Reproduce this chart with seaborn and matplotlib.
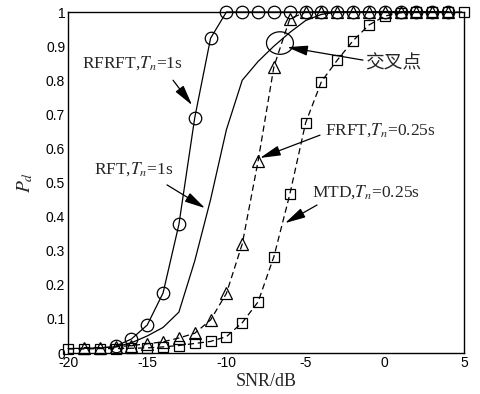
import numpy as np
import pandas as pd
import matplotlib
matplotlib.use("Agg")
import matplotlib.pyplot as plt
import seaborn as sns
from matplotlib.patches import Ellipse

# ---- data ----
snr_mtd = list(range(-20, 6))
pd_mtd = [0.012, 0.012, 0.013, 0.013, 0.014, 0.015, 0.018, 0.022, 0.028, 0.034,
          0.048, 0.089, 0.150, 0.283, 0.465, 0.675, 0.796, 0.859, 0.916, 0.962,
          0.988, 0.998, 1.0, 1.0, 1.0, 1.0]

snr_frft = list(range(-19, 5))
pd_frft = [0.016, 0.016, 0.018, 0.022, 0.027, 0.033, 0.044, 0.058, 0.097, 0.175,
           0.320, 0.563, 0.840, 0.980, 1.0, 1.0, 1.0, 1.0, 1.0, 1.0,
           1.0, 1.0, 1.0, 1.0]

snr_rfrft = list(range(-17, 5))
pd_rfrft = [0.020, 0.041, 0.082, 0.176, 0.377, 0.690, 0.923, 1.0, 1.0, 1.0,
            1.0, 1.0, 1.0, 1.0, 1.0, 1.0, 1.0, 1.0, 1.0, 1.0, 1.0, 1.0]

snr_rft = list(range(-20, 5))
pd_rft = [0.013, 0.014, 0.015, 0.018, 0.030, 0.050, 0.075, 0.120, 0.270, 0.450,
          0.655, 0.800, 0.855, 0.900, 0.940, 0.975, 0.993, 1.0, 1.0, 1.0,
          1.0, 1.0, 1.0, 1.0, 1.0]

xticks = [-20, -15, -10, -5, 0, 5]
yticks = [0, 0.1, 0.2, 0.3, 0.4, 0.5, 0.6, 0.7, 0.8, 0.9, 1]
ytick_labels = ["0", "0.1", "0.2", "0.3", "0.4", "0.5", "0.6", "0.7", "0.8", "0.9", "1"]

sns.set_theme(style="white")
plt.rcParams["font.family"] = ["Liberation Sans", "DejaVu Sans"]
plt.rcParams["mathtext.fontset"] = "stix"

fig = plt.figure(figsize=(4.81, 3.94), dpi=100)
ax = fig.add_axes([0.1414, 0.104, 0.8233, 0.8655])

lw = 0.9
common = dict(color="black", linewidth=lw, clip_on=False, sort=False,
              markerfacecolor="none", markeredgecolor="black", markeredgewidth=0.9)

sns.lineplot(x=snr_rft, y=pd_rft, ax=ax, linestyle="-", **{k: v for k, v in common.items() if not k.startswith("marker")})
sns.lineplot(x=snr_mtd, y=pd_mtd, ax=ax, marker="s", markersize=7,
             linestyle=(0, (5, 3)), **common)
sns.lineplot(x=snr_frft, y=pd_frft, ax=ax, marker="^", markersize=9,
             linestyle=(0, (5, 3)), **common)
sns.lineplot(x=snr_rfrft, y=pd_rfrft, ax=ax, marker="o", markersize=9,
             linestyle="-", **common)

ax.set_xlim(-20, 5)
ax.set_ylim(0, 1)
ax.set_xticks(xticks)
ax.set_xticklabels([str(t) for t in xticks], fontsize=10)
ax.set_yticks(yticks)
ax.set_yticklabels(ytick_labels, fontsize=10)
ax.tick_params(direction="in", length=4, width=0.8, colors="black", pad=2)
for s in ax.spines.values():
    s.set_color("black")
    s.set_linewidth(1.0)

ax.set_xlabel("SNR/dB", fontsize=13, family=["Liberation Serif"], labelpad=2)
ax.set_ylabel("$P_d$", fontsize=14, labelpad=8)

# crossover ellipse
ax.add_patch(Ellipse((-6.62, 0.909), 1.7, 0.066, fill=False, edgecolor="black", linewidth=0.9))

ap = dict(arrowstyle="-|>,head_length=0.9,head_width=0.22", color="black", lw=0.9,
          shrinkA=0, shrinkB=0, mutation_scale=14)
tfont = dict(fontsize=12.5, family=["Liberation Serif"], va="center", ha="left")

ax.annotate("", xy=(-12.17, 0.727), xytext=(-13.37, 0.80), arrowprops=ap)
ax.text(-19.1, 0.85, "RFRFT,$T_n$=1s", **tfont)

ax.annotate("", xy=(-6.17, 0.897), xytext=(-1.38, 0.859), arrowprops=ap)
ax.text(-1.25, 0.85, "交叉点", fontsize=13.5, family=["Noto Sans CJK SC"], va="center", ha="left")

ax.annotate("", xy=(-7.88, 0.572), xytext=(-4.09, 0.639), arrowprops=ap)
ax.text(-3.78, 0.655, "FRFT,$T_n$=0.25s", **tfont)

ax.annotate("", xy=(-11.35, 0.425), xytext=(-13.75, 0.493), arrowprops=ap)
ax.text(-18.36, 0.54, "RFT,$T_n$=1s", **tfont)

ax.annotate("", xy=(-6.3, 0.381), xytext=(-4.28, 0.434), arrowprops=ap)
ax.text(-4.6, 0.472, "MTD,$T_n$=0.25s", **tfont)

fig.savefig("out.png", dpi=100, facecolor="white")
